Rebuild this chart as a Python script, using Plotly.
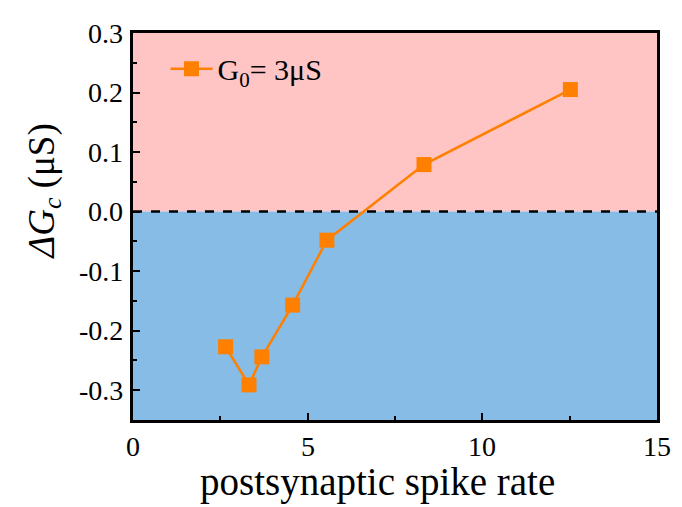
import plotly.graph_objects as go

rate = [2.65, 3.32, 3.69, 4.57, 5.55, 8.33, 12.52]
delta_g = [-0.227, -0.291, -0.244, -0.157, -0.048, 0.079, 0.205]
err = [0.006, 0.006, 0.010, 0.008, 0.008, 0.005, 0.007]

x_ticks = [0, 5, 10, 15]
x_tick_text = ["0", "5", "10", "15"]
y_ticks = [-0.3, -0.2, -0.1, 0.0, 0.1, 0.2, 0.3]
y_tick_text = ["-0.3", "-0.2", "-0.1", "0.0", "0.1", "0.2", "0.3"]

x_title = "postsynaptic spike rate"
y_title = "<i>ΔG<sub>c</sub></i> (μS)"
series_name = "G<sub>0</sub>= 3μS"

orange = "#FF8000"
font = "Liberation Serif"
tick_size = 28

fig = go.Figure()
fig.add_trace(go.Scatter(
    x=rate, y=delta_g, mode="lines+markers",
    name=series_name,
    line=dict(color=orange, width=2.5),
    marker=dict(symbol="square", size=15, color=orange),
    error_y=dict(type="data", array=err, color=orange, thickness=2, width=0),
))

fig.add_shape(type="rect", xref="paper", yref="y", x0=0, x1=1, y0=0, y1=0.3,
              fillcolor="#FFC4C4", line_width=0, layer="below")
fig.add_shape(type="rect", xref="paper", yref="y", x0=0, x1=1, y0=-0.35, y1=0,
              fillcolor="#86BCE6", line_width=0, layer="below")
fig.add_shape(type="line", xref="paper", yref="y", x0=0, x1=1, y0=0, y1=0,
              line=dict(color="black", width=2.5, dash="dash"))

annotations = []
for v, t in zip(y_ticks, y_tick_text):
    annotations.append(dict(x=0, xref="paper", y=v, yref="y", text=t, showarrow=False,
                            xanchor="right", yanchor="middle", xshift=-8,
                            font=dict(family=font, size=tick_size, color="black")))
for v, t in zip(x_ticks, x_tick_text):
    annotations.append(dict(x=v, xref="x", y=0, yref="paper", text=t, showarrow=False,
                            xanchor="center", yanchor="top", yshift=-9,
                            font=dict(family=font, size=tick_size, color="black")))
annotations.append(dict(x=0.5, xref="paper", y=0, yref="paper", text=x_title, showarrow=False,
                        xanchor="center", yanchor="top", xshift=-18, yshift=-38,
                        font=dict(family=font, size=39, color="black")))
annotations.append(dict(x=0, xref="paper", y=0.5, yref="paper", text=y_title, showarrow=False,
                        textangle=-90, xanchor="center", yanchor="middle", xshift=-89, yshift=35,
                        font=dict(family=font, size=37, color="black")))

fig.update_layout(
    width=682, height=507,
    margin=dict(l=133, r=25, t=33, b=87),
    paper_bgcolor="white", plot_bgcolor="white",
    font=dict(family=font, color="black", size=28),
    showlegend=True,
    legend=dict(x=0.062, y=0.975, xanchor="left", yanchor="top", itemwidth=42,
                bgcolor="rgba(0,0,0,0)", font=dict(size=30, family=font, color="black")),
    annotations=annotations,
)
fig.update_xaxes(range=[0, 15], tickmode="array", tickvals=x_ticks, showticklabels=False,
                 ticks="inside", ticklen=7, tickwidth=2, tickcolor="black",
                 showline=True, linewidth=2.5, linecolor="black", mirror=True,
                 showgrid=False, zeroline=False,
                 minor=dict(ticks="inside", ticklen=4, tickwidth=2, dtick=2.5, tickcolor="black"))
fig.update_yaxes(range=[-0.35, 0.3], tickmode="array", tickvals=y_ticks, showticklabels=False,
                 ticks="inside", ticklen=7, tickwidth=2, tickcolor="black",
                 showline=True, linewidth=2.5, linecolor="black", mirror=True,
                 showgrid=False, zeroline=False,
                 minor=dict(ticks="inside", ticklen=4, tickwidth=2, dtick=0.05, tickcolor="black"))

fig.write_html("out.html")
